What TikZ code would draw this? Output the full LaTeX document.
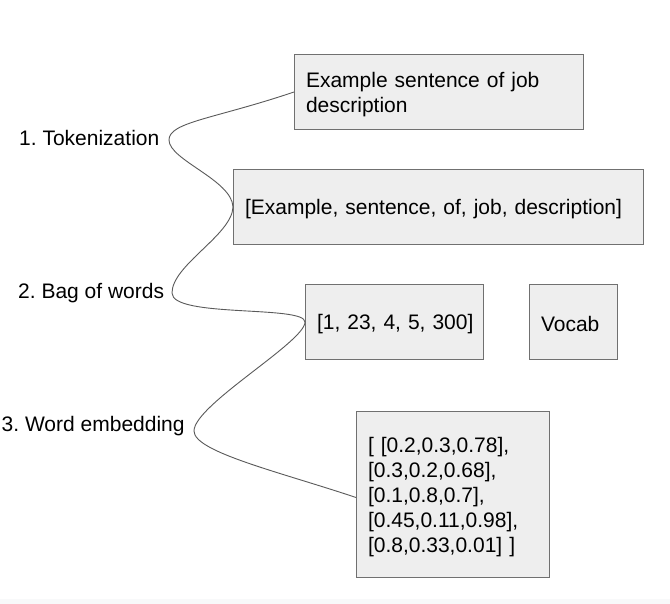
\documentclass[tikz,border=0pt]{standalone}
\usepackage{fontspec}
\setmainfont{Liberation Sans}
\frenchspacing
\hbadness=10000 \hfuzz=50pt
\definecolor{boxfill}{HTML}{EEEEEE}
\definecolor{boxline}{HTML}{707070}
\definecolor{curveline}{HTML}{5A5A5A}
\definecolor{stripfill}{HTML}{F8F9FA}
\begin{document}
\begin{tikzpicture}[x=1pt,y=-1pt,
  every node/.style={font=\fontsize{21}{25}\selectfont},
  databox/.style={draw=boxline, fill=boxfill, line width=1pt, anchor=north west,
    inner xsep=11.5pt, inner ysep=0pt, align=left,
    execute at begin node={\rule{0pt}{20pt}}},
  steplabel/.style={anchor=base west, inner sep=0pt, text=black},
  bracecurve/.style={draw=curveline, line width=0.9pt}]
  \useasboundingbox (0,0) rectangle (670,604);
  \fill[white] (0,0) rectangle (670,604);
  \fill[stripfill] (0,599) rectangle (670,604);

  \node[databox, text width=266pt, minimum height=75pt] (b1) at (294,54)
    {Example sentence of job\\description};
  \node[databox, text width=387pt, minimum height=75pt] (b2) at (233,169)
    {\mbox{[Example, sentence, of, job, description]}};
  \node[databox, text width=155pt, minimum height=75pt] (b3) at (305,284)
    {\mbox{[1, 23, 4, 5, 300]}};
  \node[databox, text width=65pt, minimum height=75pt] (voc) at (529,284)
    {\mbox{Vocab}};
  \node[databox, text width=170pt, minimum height=166pt] (b5) at (356,411)
    {[ [0.2,0.3,0.78],\\{}[0.3,0.2,0.68],\\{}[0.1,0.8,0.7],\\{}[0.45,0.11,0.98],\\{}[0.8,0.33,0.01] ]};

  \node[steplabel] (l1) at (19,146) {1. Tokenization};
  \node[steplabel] (l2) at (18,299) {2. Bag of words};
  \node[steplabel] (l3) at (1.5,431) {3. Word embedding};

  \coordinate (t1) at (169,140);
  \coordinate (t2) at (172,293);
  \coordinate (t3) at (194,431);
  \coordinate (e5) at ([yshift=-3pt]b5.west);

  \draw[bracecurve] (b1.west) .. controls (214,119) and (169,122) .. (t1)
    .. controls (169,160) and (232,180) .. (b2.west);
  \draw[bracecurve] (b2.west) .. controls (232,235) and (172,265) .. (t2)
    .. controls (172,318) and (305,305) .. (b3.west);
  \draw[bracecurve] (b3.west) .. controls (305,342) and (194,405) .. (t3)
    .. controls (194,452) and (280,472) .. (e5);
\end{tikzpicture}
\end{document}
